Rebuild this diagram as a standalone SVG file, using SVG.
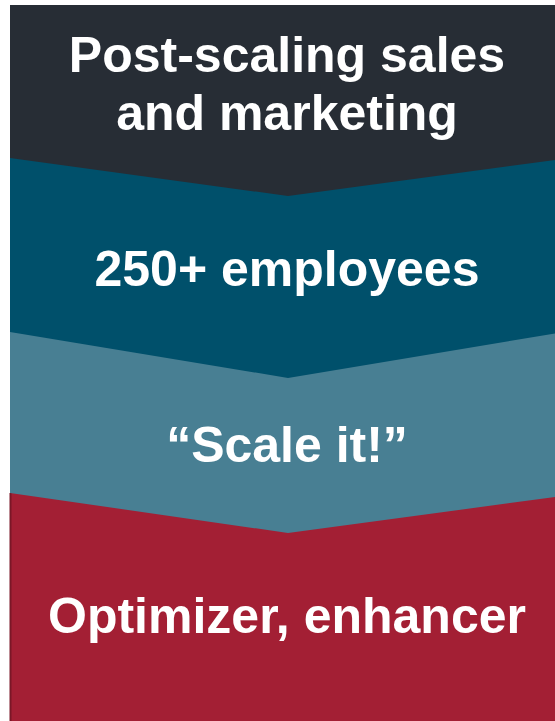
<svg xmlns="http://www.w3.org/2000/svg" width="555" height="721" viewBox="0 0 555 721">
<style>
  .lbl { font-family: "Liberation Sans", Arial, sans-serif; font-weight: bold; font-size: 50px; fill: #ffffff; text-anchor: middle; }
</style>
<rect x="0" y="0" width="555" height="721" fill="#ffffff"/>
<g id="stage4">
  <rect x="10" y="470" width="560" height="260" fill="#a31f34"/>
  <line x1="10.5" y1="493" x2="10.5" y2="721" stroke="#7a1727" stroke-width="2"/>
  <text class="lbl" x="287" y="633">Optimizer, enhancer</text>
</g>
<g id="stage3">
  <polygon points="10,310 570,310 570,495 288,533 10,493" fill="#487f93"/>
  <text class="lbl" x="287" y="462">“Scale it!”</text>
</g>
<g id="stage2">
  <polygon points="10,150 570,150 570,331 288,378 10,332" fill="#00506b"/>
  <text class="lbl" x="287" y="286">250+ employees</text>
</g>
<g id="stage1">
  <polygon points="10,5 570,5 570,158 288,196 10,158" fill="#272d35"/>
  <text class="lbl" x="287" y="72">Post-scaling sales</text>
  <text class="lbl" x="287" y="130">and marketing</text>
</g>
<g id="connectors"></g>
</svg>
